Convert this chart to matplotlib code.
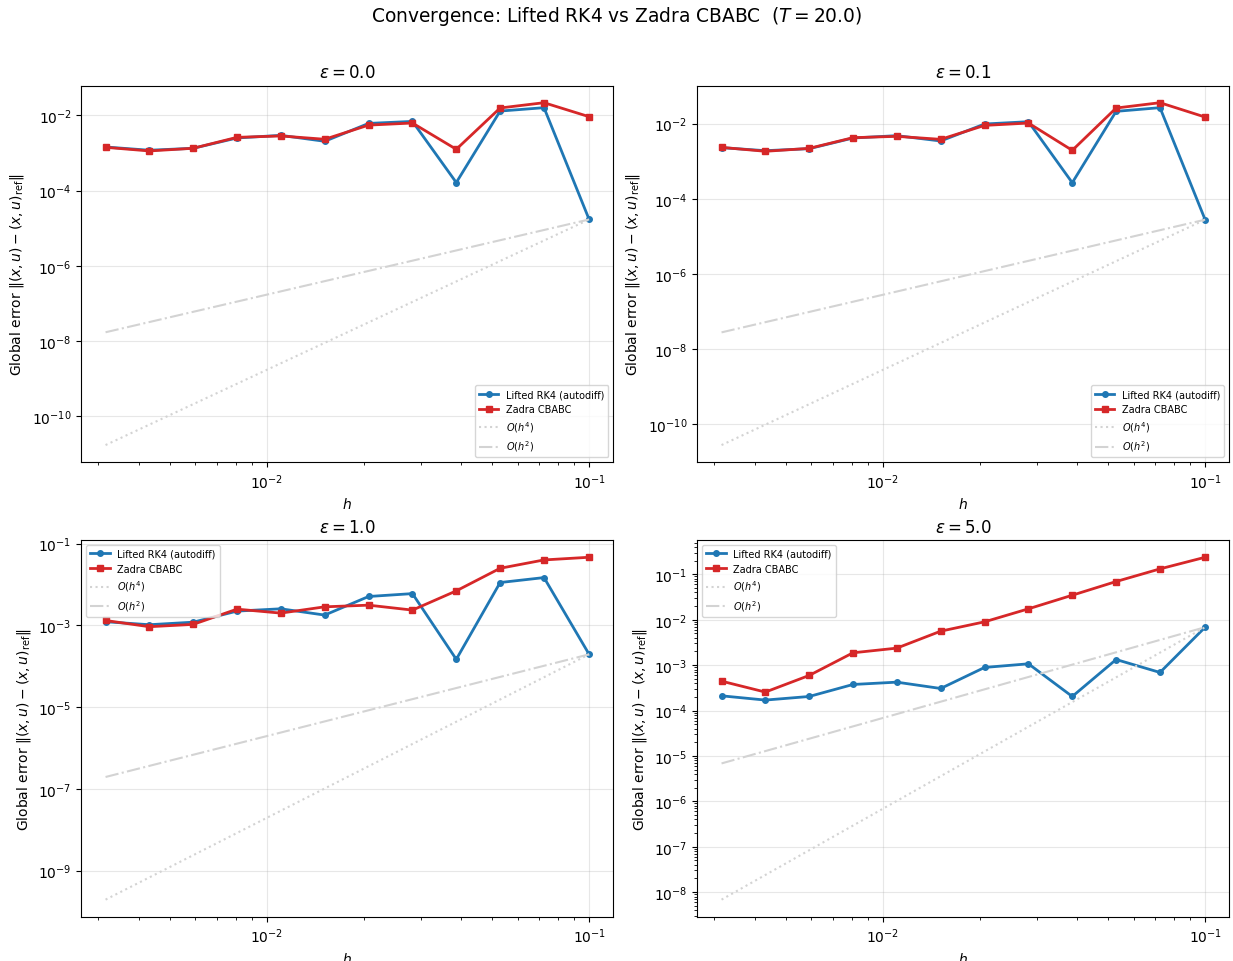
import numpy as np
import matplotlib
matplotlib.use("Agg")
import matplotlib.pyplot as plt

# step sizes (same for every panel)
h = [0.00316, 0.00432, 0.00591, 0.00808, 0.01105, 0.01512,
     0.02069, 0.02830, 0.03871, 0.05295, 0.07244, 0.1]

epsilons = [0.0, 0.1, 1.0, 5.0]

# global error, Lifted RK4 (autodiff)
rk4_eps0 = [1.44e-3, 1.18e-3, 1.33e-3, 2.5e-3, 2.94e-3, 2.04e-3,
            6.1e-3, 6.9e-3, 1.63e-4, 1.30e-2, 1.6e-2, 1.7e-5]
rk4_eps01 = [2.3e-3, 1.91e-3, 2.16e-3, 4.15e-3, 4.8e-3, 3.46e-3,
             9.8e-3, 1.13e-2, 2.68e-4, 2.13e-2, 2.67e-2, 2.78e-5]
rk4_eps1 = [1.23e-3, 1.04e-3, 1.2e-3, 2.24e-3, 2.55e-3, 1.79e-3,
            5.1e-3, 6.0e-3, 1.48e-4, 1.12e-2, 1.48e-2, 1.96e-4]
rk4_eps5 = [2.11e-4, 1.70e-4, 2.04e-4, 3.75e-4, 4.22e-4, 3.06e-4,
            8.9e-4, 1.07e-3, 2.04e-4, 1.33e-3, 6.9e-4, 6.85e-3]

# global error, Zadra CBABC
cbabc_eps0 = [1.41e-3, 1.13e-3, 1.33e-3, 2.6e-3, 2.83e-3, 2.31e-3,
              5.5e-3, 6.25e-3, 1.25e-3, 1.57e-2, 2.17e-2, 9.2e-3]
cbabc_eps01 = [2.34e-3, 1.84e-3, 2.2e-3, 4.24e-3, 4.6e-3, 3.83e-3,
               9.0e-3, 1.04e-2, 1.95e-3, 2.61e-2, 3.62e-2, 1.5e-2]
cbabc_eps1 = [1.32e-3, 9.3e-4, 1.06e-3, 2.5e-3, 2.0e-3, 2.85e-3,
              3.13e-3, 2.37e-3, 7.0e-3, 2.5e-2, 4.0e-2, 4.65e-2]
cbabc_eps5 = [4.44e-4, 2.55e-4, 5.93e-4, 1.87e-3, 2.37e-3, 5.6e-3,
              9.0e-3, 1.74e-2, 3.47e-2, 6.95e-2, 0.132, 0.238]

rk4_all = [rk4_eps0, rk4_eps01, rk4_eps1, rk4_eps5]
cbabc_all = [cbabc_eps0, cbabc_eps01, cbabc_eps1, cbabc_eps5]
legend_locs = ["lower right", "lower right", "upper left", "upper left"]

fig, axes = plt.subplots(2, 2, figsize=(12.33, 9.62), dpi=100)
fig.subplots_adjust(left=0.066, right=0.997, top=0.91, bottom=0.046,
                    wspace=0.158, hspace=0.207)
fig.suptitle(r"Convergence: Lifted RK4 vs Zadra CBABC  ($T = 20.0$)", fontsize=13.4, y=0.995)

hh = np.array(h)
for ax, eps, rk4, cb, loc in zip(axes.flat, epsilons, rk4_all, cbabc_all, legend_locs):
    ax.loglog(h, rk4, "o-", color="tab:blue", lw=2, ms=4, label="Lifted RK4 (autodiff)")
    ax.loglog(h, cb, "s-", color="tab:red", lw=2, ms=4, label="Zadra CBABC")
    # reference slopes anchored at the largest step
    anchor = rk4[-1]
    ax.loglog(h, anchor * (hh / hh[-1]) ** 4, ":", color="lightgray", lw=1.5, label=r"$O(h^4)$")
    ax.loglog(h, anchor * (hh / hh[-1]) ** 2, "-.", color="lightgray", lw=1.5, label=r"$O(h^2)$")
    ax.set_title(rf"$\varepsilon = {eps}$", fontsize=12)
    ax.set_xlabel(r"$h$")
    ax.set_ylabel(r"Global error $\|(x,u) - (x,u)_{\mathrm{ref}}\|$")
    ax.grid(True, which="major", alpha=0.3)
    ax.legend(loc=loc, fontsize=7)

fig.savefig("out.png", dpi=100)
